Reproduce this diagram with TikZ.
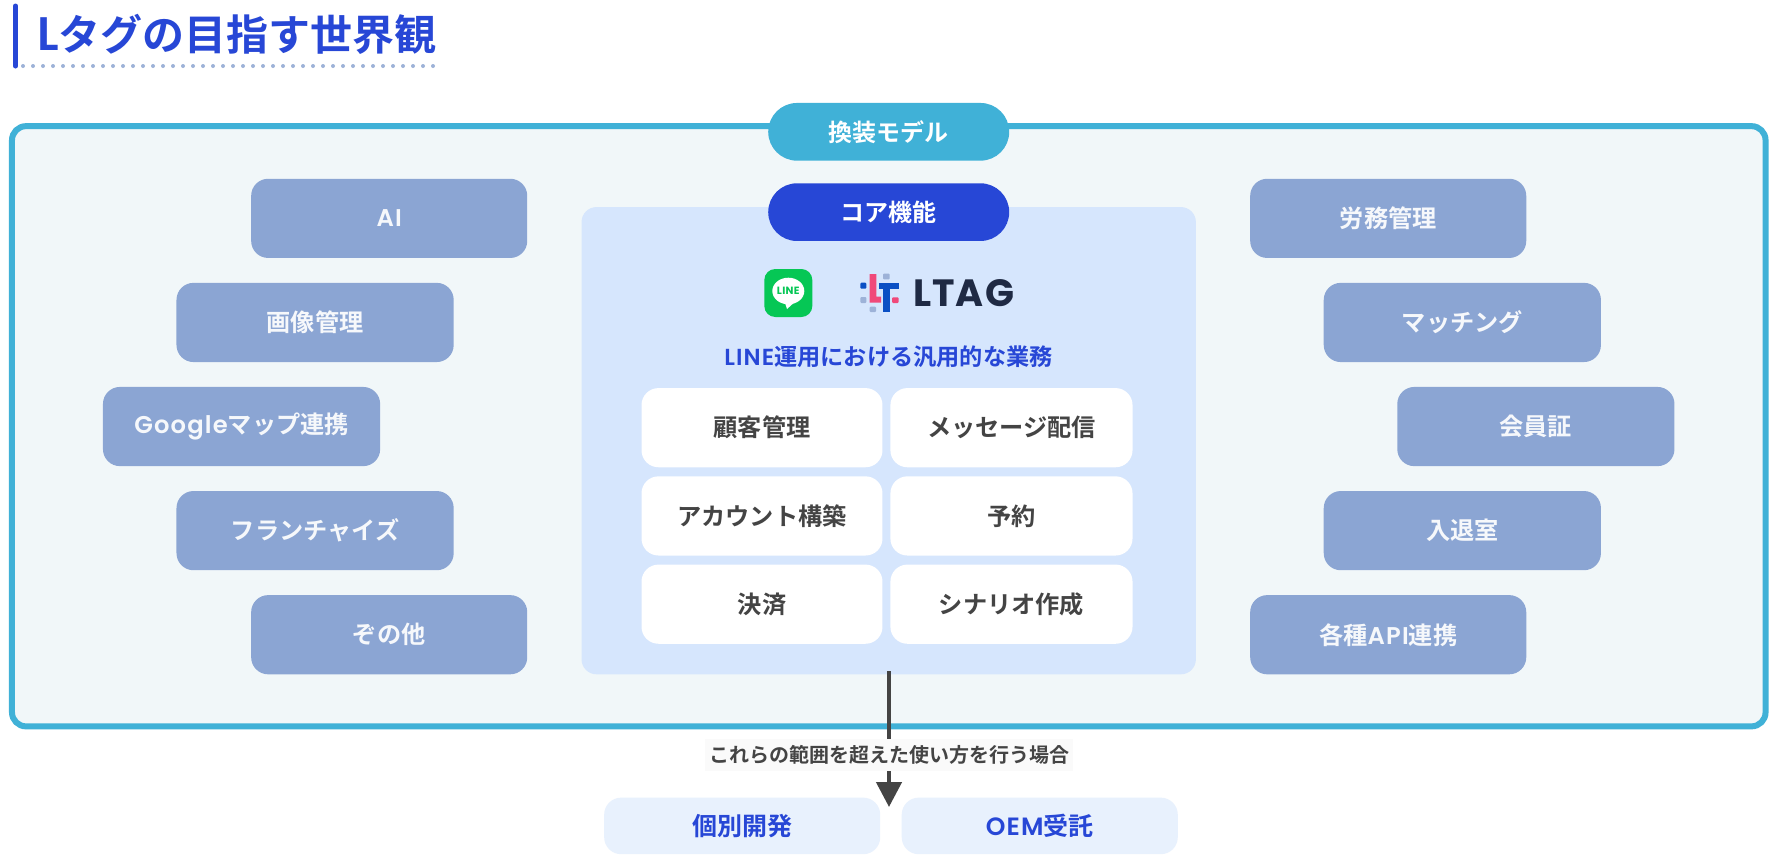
\documentclass[tikz,border=0pt]{standalone}
\usepackage{fontspec}
\usetikzlibrary{arrows.meta}
\setmainfont{Noto Sans CJK JP}[BoldFont={Noto Sans CJK JP Bold}]
\newfontfamily\lat{Poppins}[BoldFont={Poppins SemiBold},LetterSpace=5]
\newfontfamily\latlogo{Poppins}[BoldFont={Poppins Bold},LetterSpace=3]
\definecolor{tblue}{HTML}{2747D6}
\definecolor{outerline}{HTML}{40B1D7}
\definecolor{outerfill}{HTML}{F1F7F9}
\definecolor{sidefill}{HTML}{8BA5D3}
\definecolor{panelfill}{HTML}{D6E6FD}
\definecolor{lowfill}{HTML}{E8F1FD}
\definecolor{ink}{HTML}{444444}
\definecolor{linegreen}{HTML}{06C755}
\definecolor{ltblue}{HTML}{0A4FC4}
\definecolor{ltpink}{HTML}{F0497A}
\definecolor{ltgray}{HTML}{9DB2D8}
\definecolor{ltdark}{HTML}{1F2A44}
\def\uu{1.1314}
\newcommand{\fsz}[1]{\fontsize{#1pt}{#1pt}\selectfont\bfseries}
\newcommand{\bx}[7]{% name x0 x1 y0 y1 style text
  \pgfmathsetmacro{\cx}{(#2+#3)/2*\uu}\pgfmathsetmacro{\cy}{(#4+#5)/2*\uu}
  \pgfmathsetmacro{\ww}{(#3-#2)*\uu}\pgfmathsetmacro{\hh}{(#5-#4)*\uu}
  \node[#6,minimum width=\ww pt,minimum height=\hh pt] (#1) at (\cx,\cy) {#7};}
\tikzset{
  boxbase/.style={inner sep=0pt,outer sep=0pt,rectangle},
  outerbox/.style={boxbase,draw=outerline,fill=outerfill,line width=6pt,rounded corners=14pt},
  sidebox/.style={boxbase,fill=sidefill,rounded corners=17pt,text=white!92!sidefill,font=\fsz{24.2}},
  panelbox/.style={boxbase,fill=panelfill,rounded corners=15pt},
  whitebox/.style={boxbase,fill=white,rounded corners=17pt,text=ink,font=\fsz{24.2}},
  pillcyan/.style={boxbase,fill=outerline,rounded corners=28.8pt,text=white,font=\fsz{24}},
  pillblue/.style={boxbase,fill=tblue,rounded corners=28.8pt,text=white,font=\fsz{24}},
  lowbox/.style={boxbase,fill=lowfill,rounded corners=17pt,text=tblue,font=\fsz{25}},
  txtcap/.style={inner sep=0pt,outer sep=0pt},
  flow/.style={draw=ink,line width=4.5pt,-{Triangle[length=25pt,width=25pt]}},
}
\begin{document}
\begin{tikzpicture}[x=1pt,y=-1pt]
\useasboundingbox[fill=white] (0,0) rectangle (1774,860);
% title
\node[txtcap,anchor=west,text=tblue,font=\fsz{42}] (title) at (37,34) {{\lat\fontsize{47pt}{47pt}\selectfont L}タグの目指す世界観};
\coordinate (barT) at (15.5,6);
\coordinate (barB) at (15.5,66);
\draw[tblue,line width=5pt,line cap=round] (barT) -- (barB);
\foreach \i in {0,...,41}{\fill[ltgray] (23+10*\i,66) circle (2);}
% outer
\bx{outer}{10.6}{1560.5}{111.5}{642}{outerbox}{}
\bx{model}{679}{892}{91}{142}{pillcyan}{換装モデル}
% sides
\bx{ai}{222}{466}{158}{228}{sidebox}{{\lat AI}}
\bx{img}{156}{401}{250}{320}{sidebox}{画像管理}
\bx{gmap}{91}{336}{342}{412}{sidebox}{{\lat Google}マップ連携}
\bx{fran}{156}{401}{434}{504}{sidebox}{フランチャイズ}
\bx{other}{222}{466}{526}{596}{sidebox}{ぞの他}
\bx{labor}{1105}{1349}{158}{228}{sidebox}{労務管理}
\bx{match}{1170}{1415}{250}{320}{sidebox}{マッチング}
\bx{member}{1235}{1480}{342}{412}{sidebox}{会員証}
\bx{entry}{1170}{1415}{434}{504}{sidebox}{入退室}
\bx{api}{1105}{1349}{526}{596}{sidebox}{各種{\lat API}連携}
% core
\bx{core}{514}{1057}{183}{596}{panelbox}{}
\bx{corehead}{679}{892}{162}{213}{pillblue}{コア機能}
\node[txtcap,text=tblue,font=\fsz{23.2}] (sub) at (888.5,357) {{\lat LINE}運用における汎用的な業務};
\bx{w1}{567}{780}{343}{413}{whitebox}{顧客管理}
\bx{w2}{787}{1001}{343}{413}{whitebox}{メッセージ配信}
\bx{w3}{567}{780}{421}{491}{whitebox}{アカウント構築}
\bx{w4}{787}{1001}{421}{491}{whitebox}{予約}
\bx{w5}{567}{780}{499}{569}{whitebox}{決済}
\bx{w6}{787}{1001}{499}{569}{whitebox}{シナリオ作成}
% LINE logo
\fill[linegreen,rounded corners=11pt] (764.3,269) rectangle (812.3,317);
\fill[white] (788.3,291) ellipse (16 and 13.3);
\fill[white] (784,300) -- (787,309) -- (797,300) -- cycle;
\node[txtcap,text=linegreen,font=\latlogo\fontsize{10.5pt}{10.5pt}\selectfont\bfseries] (linetxt) at (788.3,291) {LINE};
% LT logo
\fill[ltblue,rounded corners=1pt] (860.3,282.7) rectangle (866.3,288.7);
\fill[ltgray,rounded corners=1pt] (860.3,297) rectangle (866.3,303);
\fill[ltpink] (869.7,274) -- (876.3,274) -- (876.3,296.5) -- (881,296.5) -- (881,302.7) -- (869.7,302.7) -- cycle;
\fill[ltgray,rounded corners=1pt] (883,273.7) rectangle (889.7,279.3);
\fill[ltblue] (879.3,282.7) rectangle (898.7,288.7);
\fill[ltblue] (883,282.7) rectangle (890,311.7);
\fill[ltpink,rounded corners=1pt] (892,297.3) rectangle (898.7,303);
\fill[ltgray,rounded corners=1pt] (869.7,306.7) rectangle (876,312);
\node[txtcap,anchor=west,text=ltdark,font=\latlogo\fontsize{38pt}{38pt}\selectfont\bfseries] (ltag) at (913,293) {LTAG};
% lower
\bx{dev}{534}{778}{705}{755}{lowbox}{個別開発}
\bx{oem}{797}{1041}{705}{755}{lowbox}{{\lat OEM}受託}
\coordinate (start) at (889,671);
\coordinate (tip) at (889,807);
\draw[flow] (start) -- (tip);
\node[fill=white!98!black,inner xsep=4pt,inner ysep=6pt,outer sep=0pt,text=ink,font=\fsz{20}] (scope) at (889,755) {これらの範囲を超えた使い方を行う場合};
\end{tikzpicture}
\end{document}
